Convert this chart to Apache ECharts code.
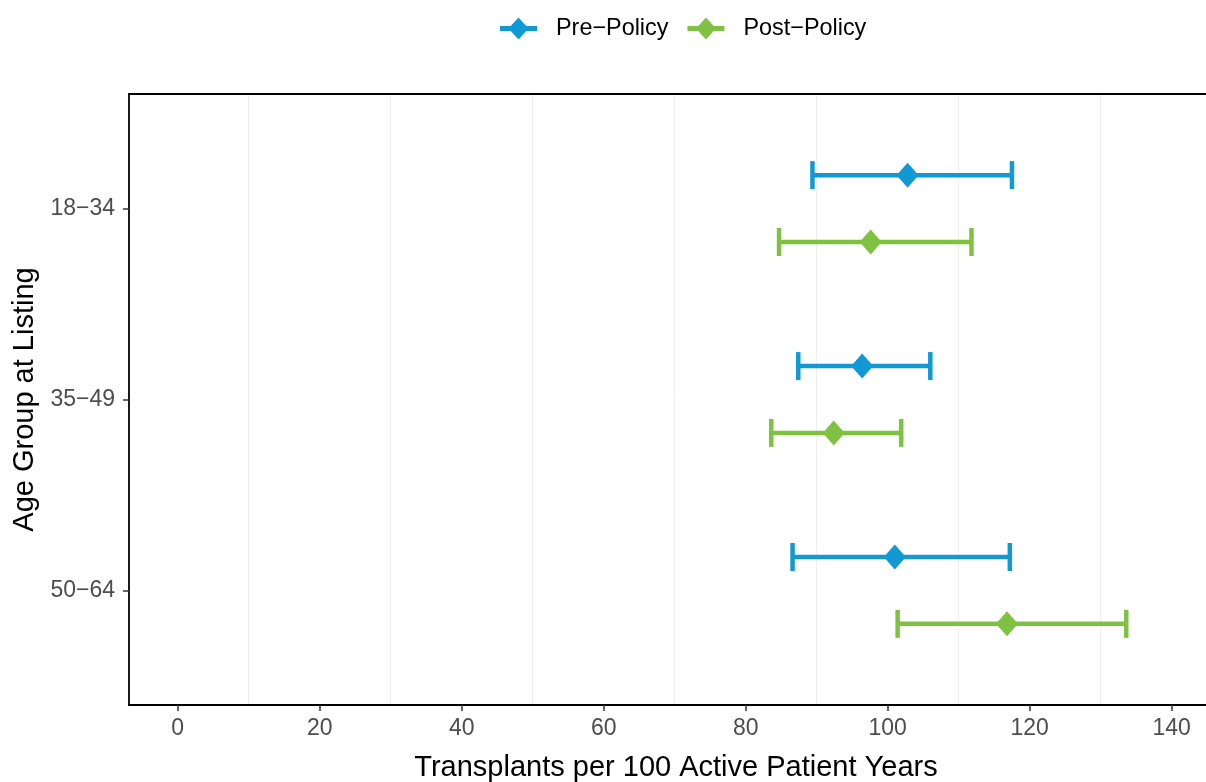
<!DOCTYPE html>
<html>
<head>
<meta charset="utf-8">
<script src="https://cdn.jsdelivr.net/npm/echarts@6/dist/echarts.min.js"></script>
<style>
html,body{margin:0;padding:0;background:#fff;}
#chart{width:1206px;height:782px;}
</style>
</head>
<body>
<div id="chart"></div>
<script>
// ---- data ----
const categories = ['18\u221234', '35\u221249', '50\u221264'];
const seriesNames = ['Pre\u2212Policy', 'Post\u2212Policy'];
const preEstimate = [102.8, 96.4, 101.0];
const preLower    = [89.4, 87.4, 86.6];
const preUpper    = [117.5, 106.0, 117.2];
const postEstimate = [97.6, 92.4, 116.8];
const postLower    = [84.7, 83.6, 101.4];
const postUpper    = [111.8, 101.9, 133.6];
const xTickValues = [0, 20, 40, 60, 80, 100, 120, 140];
const xMinorGrid  = [10, 30, 50, 70, 90, 110, 130];

// ---- styling ----
const colors = ['#1199D6', '#7FC241'];
const dodge = 0.175;
const FONT = '"Liberation Sans", Arial, Helvetica, sans-serif';

const catPos = categories.map((c, i) => i + 1);
function rows(est, lo, hi, off) {
  return est.map((v, i) => [v, lo[i], hi[i], catPos[i] + off]);
}
const preRows = rows(preEstimate, preLower, preUpper, -dodge);
const postRows = rows(postEstimate, postLower, postUpper, dodge);

function errRender(color) {
  return function (params, api) {
    const lo = api.coord([api.value(1), api.value(3)]);
    const hi = api.coord([api.value(2), api.value(3)]);
    const cap = 14;
    const st = { stroke: color, lineWidth: 4.5 };
    return {
      type: 'group',
      children: [
        { type: 'line', shape: { x1: lo[0], y1: lo[1], x2: hi[0], y2: hi[1] }, style: st },
        { type: 'line', shape: { x1: lo[0], y1: lo[1] - cap, x2: lo[0], y2: lo[1] + cap }, style: st },
        { type: 'line', shape: { x1: hi[0], y1: hi[1] - cap, x2: hi[0], y2: hi[1] + cap }, style: st }
      ]
    };
  };
}

const legendIcon = 'path://M0,8.5 L10.77,8.5 L18.5,0 L26.23,8.5 L37,8.5 L37,13.5 L26.23,13.5 L18.5,22 L10.77,13.5 L0,13.5 Z';

const X0 = 177.7, PXU = 7.1, GL = 129, GR = 1212;

const chart = echarts.init(document.getElementById('chart'), null, { renderer: 'canvas' });
chart.setOption({
  animation: false,
  backgroundColor: '#ffffff',
  color: colors,
  legend: {
    top: 12,
    left: 495,
    itemWidth: 37,
    itemHeight: 22,
    itemGap: 19,
    icon: legendIcon,
    data: seriesNames.map((n) => ({ name: n, icon: legendIcon })),
    textStyle: { fontFamily: FONT, fontSize: 23.4, color: '#000', padding: [0, 0, 0, 14] }
  },
  grid: {
    left: GL, width: GR - GL, top: 94, bottom: 77,
    outerBoundsMode: 'none', containLabel: false,
    show: false
  },
  xAxis: [{
    type: 'value',
    min: (GL - X0) / PXU,
    max: (GR - X0) / PXU,
    name: 'Transplants per 100 Active Patient Years',
    nameLocation: 'middle',
    nameGap: 48,
    nameTextStyle: { fontFamily: FONT, fontSize: 29, color: '#000', padding: [0, 0, 0, 11] },
    axisLine: { show: true, onZero: false, lineStyle: { color: '#000', width: 1.8 } },
    axisTick: { show: true, length: 6, customValues: xTickValues, lineStyle: { color: '#333', width: 1.5 } },
    axisLabel: { customValues: xTickValues, margin: 12, fontFamily: FONT, fontSize: 23, color: '#4D4D4D' },
    splitLine: { show: false }
  }, {
    type: 'value',
    position: 'top',
    min: (GL - X0) / PXU,
    max: (GR - X0) / PXU,
    axisLine: { show: true, onZero: false, lineStyle: { color: '#000', width: 1.8 } },
    axisTick: { show: false },
    axisLabel: { show: false },
    splitLine: { show: false }
  }],
  yAxis: {
    type: 'value',
    inverse: true,
    min: 0.4,
    max: 3.6,
    name: 'Age Group at Listing',
    nameLocation: 'middle',
    nameGap: 90,
    nameTextStyle: { fontFamily: FONT, fontSize: 29, color: '#000' },
    axisLine: { show: true, onZero: false, lineStyle: { color: '#000', width: 1.8 } },
    axisTick: { show: true, length: 6, customValues: catPos, lineStyle: { color: '#333', width: 1.5 } },
    axisLabel: {
      customValues: catPos, margin: 14, fontFamily: FONT, fontSize: 23, color: '#4D4D4D',
      formatter: (v) => categories[Math.round(v) - 1] || ''
    },
    splitLine: { show: false }
  },
  series: [
    {
      name: seriesNames[0], type: 'custom', renderItem: errRender(colors[0]),
      data: preRows, encode: { x: [1, 2], y: 3 }, z: 2,
      markLine: {
        silent: true, symbol: ['none', 'none'], label: { show: false },
        lineStyle: { color: '#EEEEEE', width: 1, type: 'solid' },
        data: xMinorGrid.map((v) => ({ xAxis: v })), z: 0
      }
    },
    {
      name: seriesNames[1], type: 'custom', renderItem: errRender(colors[1]),
      data: postRows, encode: { x: [1, 2], y: 3 }, z: 2
    },
    {
      name: seriesNames[0], type: 'scatter', symbol: 'diamond', symbolSize: [22, 25],
      itemStyle: { color: colors[0], opacity: 1 }, data: preRows.map((r) => [r[0], r[3]]), z: 3
    },
    {
      name: seriesNames[1], type: 'scatter', symbol: 'diamond', symbolSize: [22, 25],
      itemStyle: { color: colors[1], opacity: 1 }, data: postRows.map((r) => [r[0], r[3]]), z: 3
    }
  ]
});
</script>
</body>
</html>
